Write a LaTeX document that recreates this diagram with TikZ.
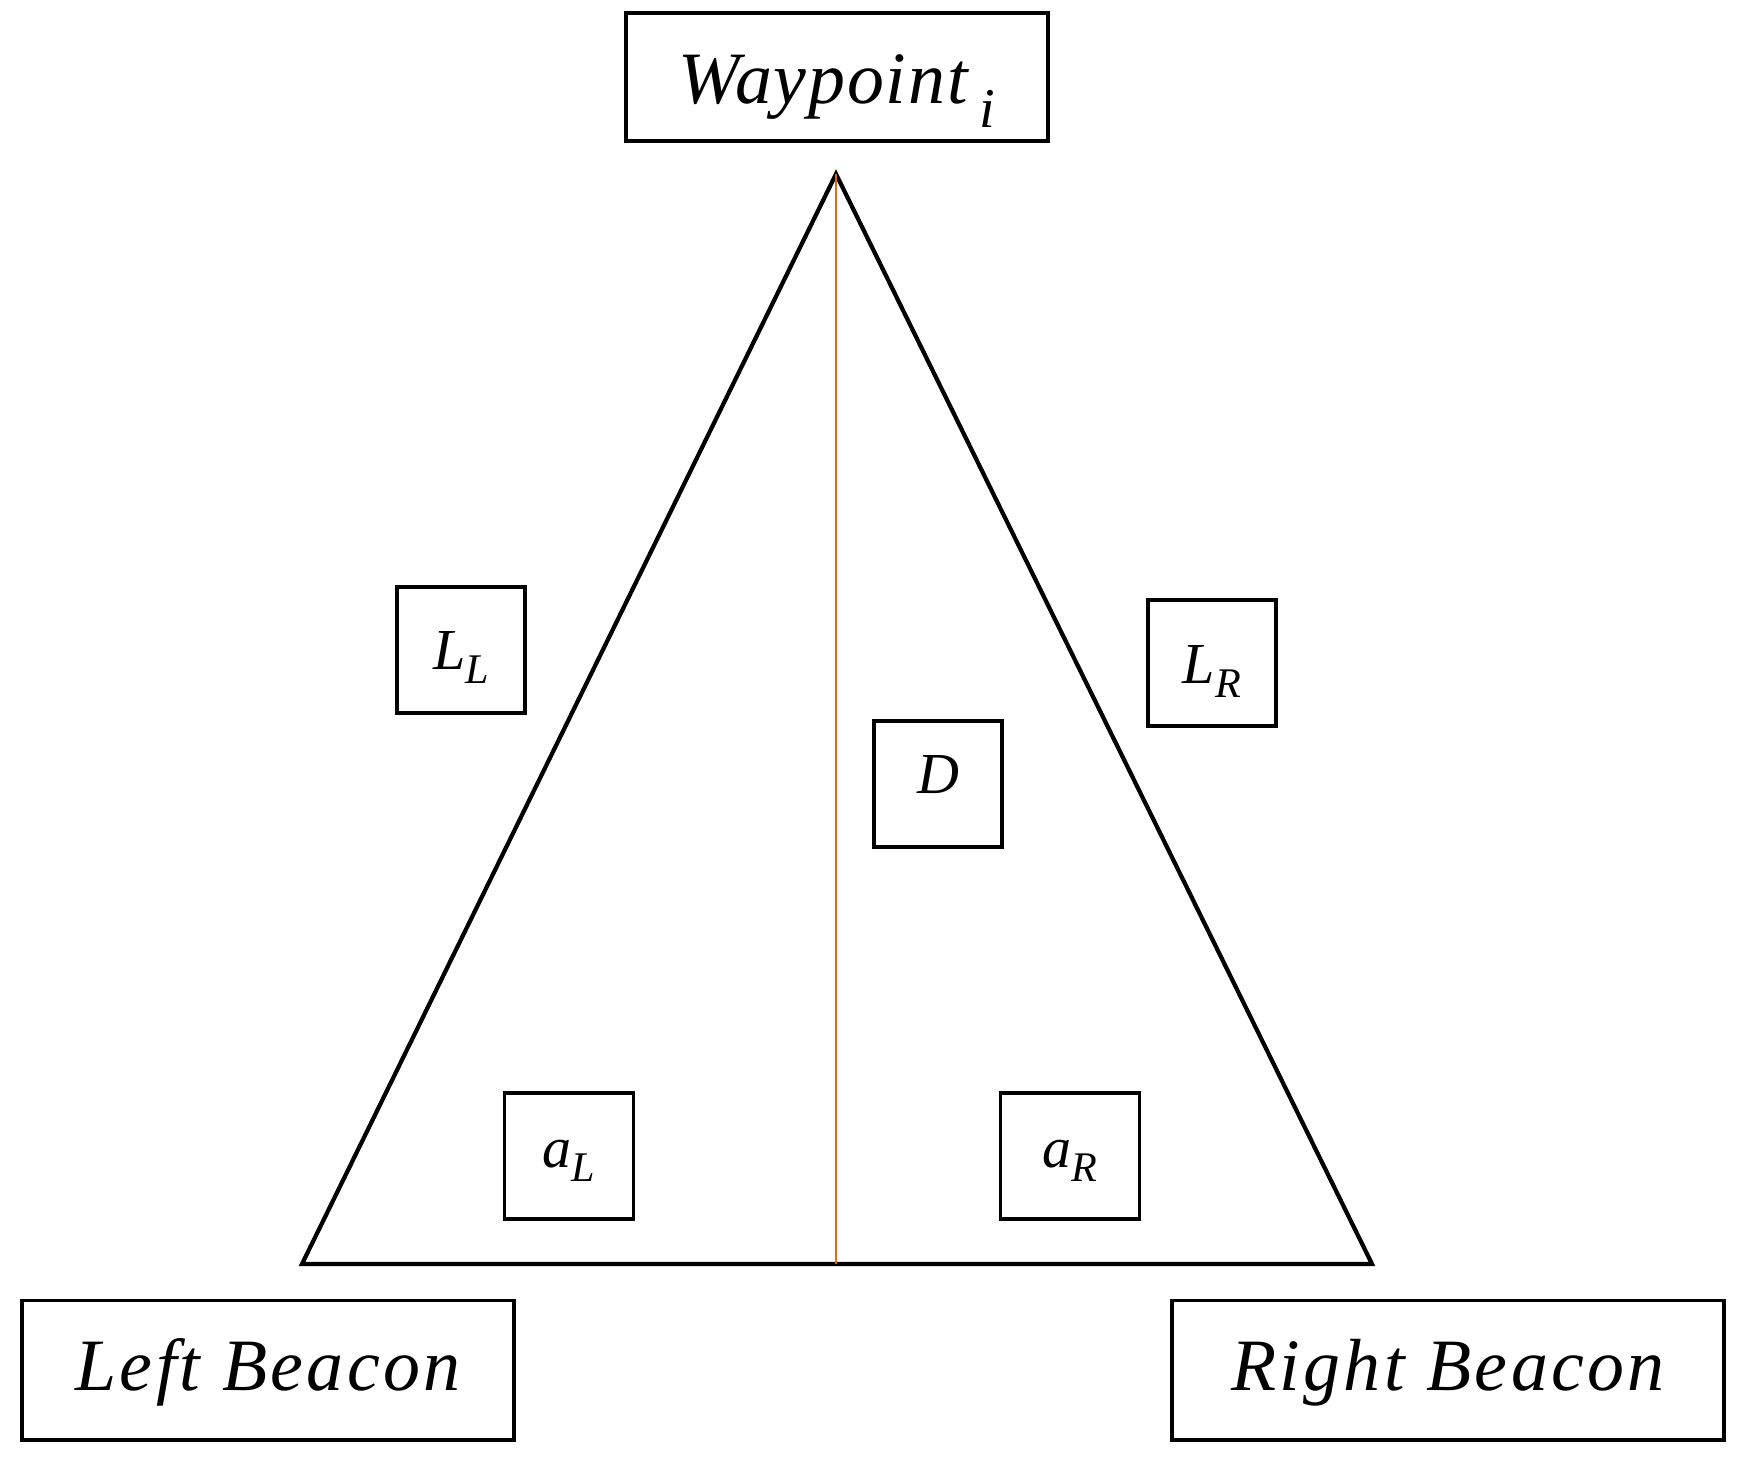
\documentclass[tikz,border=0pt]{standalone}
\usepackage{fontspec}
\setmainfont{Liberation Serif}
\definecolor{heightline}{RGB}{230,104,20}
\newcommand{\lowsub}[2]{\raisebox{-#2}{\fontsize{12}{12}\selectfont #1}}
\begin{document}
\begin{tikzpicture}[x=0.01cm, y=-0.01cm, line width=1.2pt,
    tag/.style={draw, line width=1.1pt, inner sep=0pt, minimum width=1.28cm, minimum height=1.26cm,
        text height=0.5cm, text depth=#1, font=\fontsize{16.5}{18}\selectfont\itshape},
    tag/.default=0.12cm,
    place/.style={draw, line width=1.1pt, inner sep=0pt, minimum height=1.39cm,
        text height=0.5cm, text depth=0.1cm,
        font=\fontsize{21}{24}\selectfont\itshape\addfontfeature{LetterSpace=4.5}}]
\useasboundingbox (0,0) rectangle (1752,1462);

% end points
\node[place, minimum width=4.22cm, minimum height=1.28cm, text height=0.52cm, text depth=0cm,
    font=\fontsize{21}{24}\selectfont\itshape\addfontfeature{LetterSpace=2.5}] (wp) at (837,77)
    {Waypoint\,\raisebox{-7pt}{\fontsize{16}{16}\selectfont i}};
\node[place, minimum width=4.92cm] (lbeacon) at (268,1370) {Left Beacon};
\node[place, minimum width=5.51cm] (rbeacon) at (1448,1370) {Right Beacon};

% triangle
\coordinate (apex) at (836,174);
\coordinate (bl) at (302,1264);
\coordinate (br) at (1372,1264);
\coordinate (foot) at (836,1264);
\draw[line join=miter] (apex) -- (bl) -- (br) -- cycle;
\draw[heightline, line width=0.6pt] (apex) -- (foot);

% labels
\node[tag] (ll) at (461,650) {L\lowsub{L}{4pt}};
\node[tag=0.1cm] (lr) at (1212,663) {L\lowsub{R}{4pt}};
\node[tag=0.32cm] (d) at (938,784) {D};
\node[tag=0.28cm, minimum width=1.29cm] (al) at (569,1156) {a\lowsub{L}{4pt}};
\node[tag=0.28cm, minimum width=1.39cm] (ar) at (1070,1156) {a\lowsub{R}{4pt}};
\end{tikzpicture}
\end{document}
